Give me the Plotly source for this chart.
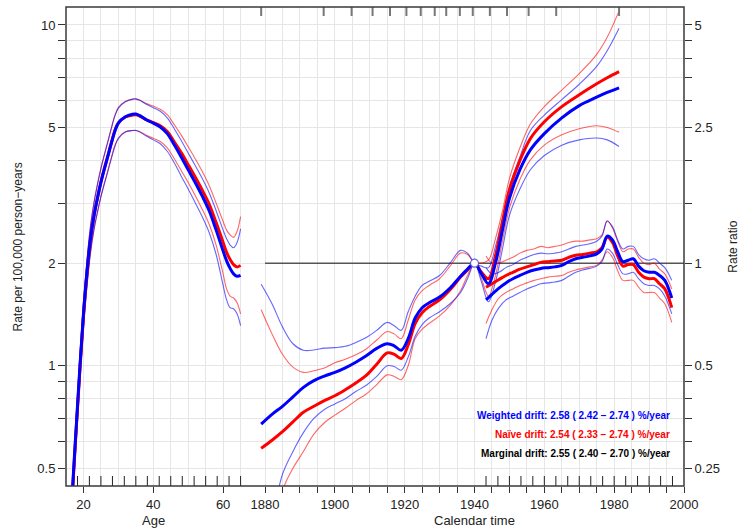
import plotly.graph_objects as go

# ---------------- data ----------------
# Age effect: rates per 100,000 person-years
age = [16.5, 17, 18, 19, 20, 21, 22, 23, 24, 25, 26, 27, 28, 29, 30, 32, 34, 35, 36, 38,
       40, 42, 44, 46, 48, 50, 52, 54, 56, 58, 60, 61, 62, 63, 64, 65]
age_w = [0.36, 0.46, 0.68, 1.00, 1.42, 1.88, 2.35, 2.75, 3.10, 3.45, 3.78, 4.12, 4.50, 4.88, 5.15, 5.38, 5.47, 5.48, 5.43, 5.27,
         5.15, 5.02, 4.80, 4.45, 4.10, 3.76, 3.45, 3.15, 2.85, 2.50, 2.17, 2.03, 1.93, 1.86, 1.83, 1.84]
age_w_hi = [0.38, 0.49, 0.73, 1.08, 1.54, 2.04, 2.56, 3.00, 3.40, 3.79, 4.16, 4.54, 4.97, 5.40, 5.70, 5.95, 6.06, 6.07, 6.02, 5.85,
            5.72, 5.58, 5.34, 4.96, 4.58, 4.21, 3.87, 3.55, 3.22, 2.85, 2.50, 2.36, 2.26, 2.22, 2.30, 2.52]
age_w_lo = [0.33, 0.42, 0.62, 0.92, 1.30, 1.72, 2.15, 2.51, 2.82, 3.13, 3.42, 3.72, 4.06, 4.40, 4.64, 4.85, 4.90, 4.90, 4.86, 4.72,
            4.60, 4.48, 4.26, 3.94, 3.60, 3.30, 3.01, 2.74, 2.46, 2.12, 1.72, 1.56, 1.48, 1.47, 1.42, 1.31]
age_n = [0.36, 0.45, 0.67, 0.98, 1.40, 1.86, 2.33, 2.74, 3.10, 3.46, 3.80, 4.14, 4.52, 4.90, 5.16, 5.37, 5.44, 5.45, 5.41, 5.27,
         5.17, 5.06, 4.87, 4.54, 4.22, 3.89, 3.58, 3.28, 2.98, 2.63, 2.30, 2.15, 2.05, 1.98, 1.95, 1.97]
age_n_hi = [0.38, 0.48, 0.72, 1.07, 1.53, 2.03, 2.55, 3.00, 3.40, 3.80, 4.18, 4.56, 5.00, 5.43, 5.72, 5.96, 6.05, 6.06, 6.02, 5.88,
            5.78, 5.66, 5.46, 5.10, 4.75, 4.39, 4.05, 3.72, 3.38, 3.00, 2.65, 2.50, 2.42, 2.38, 2.48, 2.74]
age_n_lo = [0.33, 0.41, 0.61, 0.90, 1.28, 1.70, 2.13, 2.50, 2.82, 3.14, 3.44, 3.75, 4.09, 4.43, 4.66, 4.86, 4.90, 4.90, 4.87, 4.75,
            4.65, 4.55, 4.36, 4.05, 3.74, 3.45, 3.16, 2.88, 2.60, 2.26, 1.86, 1.68, 1.60, 1.58, 1.53, 1.42]

# Cohort effect: rate ratios, reference cohort 1940
cohort = [1878.9, 1882, 1885, 1888, 1891, 1894, 1897, 1900, 1903, 1906, 1909, 1912, 1915, 1917, 1919,
          1921, 1923, 1925, 1927, 1930, 1933, 1936, 1938, 1940, 1942, 1944, 1946, 1948, 1950, 1953,
          1956, 1960, 1965, 1970, 1975, 1978, 1981.4]
coh_w = [0.337, 0.360, 0.380, 0.405, 0.432, 0.452, 0.466, 0.478, 0.493, 0.512, 0.535, 0.562, 0.580, 0.572, 0.555,
         0.600, 0.690, 0.740, 0.765, 0.795, 0.845, 0.915, 0.960, 1.000, 0.930, 0.870, 1.000, 1.250, 1.550, 1.880,
         2.150, 2.400, 2.670, 2.900, 3.070, 3.170, 3.270]
coh_w_hi = [0.867, 0.760, 0.650, 0.580, 0.555, 0.556, 0.563, 0.565, 0.570, 0.585, 0.605, 0.635, 0.670, 0.655, 0.635,
            0.720, 0.800, 0.860, 0.885, 0.920, 1.000, 1.090, 1.070, 1.000, 0.980, 0.970, 1.120, 1.350, 1.680, 2.050,
            2.450, 2.720, 3.020, 3.350, 3.780, 4.200, 4.890]
coh_w_lo = [0.120, 0.175, 0.240, 0.280, 0.318, 0.350, 0.372, 0.386, 0.400, 0.420, 0.438, 0.465, 0.500, 0.497, 0.485,
            0.530, 0.610, 0.660, 0.690, 0.720, 0.760, 0.820, 0.900, 1.000, 0.880, 0.770, 0.880, 1.100, 1.380, 1.650,
            1.880, 2.070, 2.220, 2.300, 2.330, 2.300, 2.200]
coh_n = [0.286, 0.302, 0.320, 0.342, 0.365, 0.380, 0.395, 0.408, 0.425, 0.445, 0.468, 0.505, 0.545, 0.540, 0.525,
         0.575, 0.665, 0.715, 0.745, 0.780, 0.835, 0.910, 0.955, 1.000, 0.940, 0.900, 1.050, 1.320, 1.640, 2.000,
         2.320, 2.600, 2.880, 3.120, 3.360, 3.500, 3.650]
coh_n_hi = [0.730, 0.620, 0.540, 0.495, 0.478, 0.483, 0.492, 0.510, 0.522, 0.538, 0.560, 0.595, 0.630, 0.620, 0.600,
            0.680, 0.780, 0.830, 0.860, 0.900, 0.980, 1.070, 1.060, 1.000, 1.000, 1.020, 1.180, 1.420, 1.770, 2.180,
            2.560, 2.880, 3.220, 3.600, 4.100, 4.600, 5.500]
coh_n_lo = [0.100, 0.150, 0.215, 0.250, 0.280, 0.315, 0.340, 0.358, 0.375, 0.395, 0.413, 0.440, 0.470, 0.465, 0.455,
            0.500, 0.600, 0.640, 0.665, 0.700, 0.750, 0.830, 0.920, 1.000, 0.900, 0.800, 0.920, 1.160, 1.450, 1.760,
            2.010, 2.220, 2.380, 2.480, 2.530, 2.500, 2.420]

# Period effect: rate ratios
period = [1943.3, 1945, 1947, 1949, 1951, 1953, 1955, 1957, 1959, 1961, 1963, 1965, 1967, 1969, 1971, 1973,
          1975, 1976.5, 1978, 1979.5, 1981, 1982.5, 1984, 1985.5, 1987, 1988.5, 1990, 1991.5, 1993, 1994.5, 1996.5]
per_w = [0.78, 0.81, 0.845, 0.875, 0.90, 0.92, 0.94, 0.955, 0.965, 0.97, 0.975, 0.985, 1.01, 1.03, 1.04, 1.05,
         1.065, 1.10, 1.20, 1.17, 1.08, 1.01, 1.02, 1.03, 0.98, 0.95, 0.94, 0.94, 0.92, 0.89, 0.79]
per_w_hi = [0.97, 0.93, 0.94, 0.97, 0.99, 1.02, 1.04, 1.06, 1.07, 1.065, 1.07, 1.08, 1.10, 1.12, 1.13, 1.14,
            1.16, 1.20, 1.33, 1.28, 1.17, 1.10, 1.12, 1.12, 1.06, 1.03, 1.02, 1.03, 1.00, 0.97, 0.89]
per_w_lo = [0.60, 0.68, 0.74, 0.78, 0.80, 0.82, 0.84, 0.855, 0.87, 0.875, 0.88, 0.89, 0.915, 0.94, 0.955, 0.965,
            0.98, 1.01, 1.10, 1.07, 0.99, 0.93, 0.93, 0.94, 0.90, 0.87, 0.86, 0.86, 0.84, 0.80, 0.71]
per_n = [0.85, 0.87, 0.895, 0.92, 0.94, 0.96, 0.975, 0.99, 1.005, 1.01, 1.015, 1.02, 1.04, 1.055, 1.06, 1.07,
         1.08, 1.11, 1.19, 1.15, 1.05, 0.98, 0.99, 0.99, 0.94, 0.91, 0.90, 0.90, 0.87, 0.84, 0.74]
per_n_hi = [1.05, 1.00, 1.00, 1.02, 1.04, 1.07, 1.09, 1.10, 1.12, 1.11, 1.12, 1.13, 1.15, 1.16, 1.16, 1.17,
            1.18, 1.21, 1.33, 1.27, 1.16, 1.08, 1.10, 1.10, 1.04, 1.00, 0.99, 1.00, 0.96, 0.93, 0.84]
per_n_lo = [0.665, 0.73, 0.79, 0.82, 0.84, 0.86, 0.875, 0.89, 0.90, 0.91, 0.915, 0.92, 0.94, 0.955, 0.965, 0.975,
            0.985, 1.02, 1.08, 1.04, 0.95, 0.89, 0.89, 0.89, 0.85, 0.82, 0.82, 0.82, 0.79, 0.76, 0.67]

ref_cohort = 1940
ref_span = [1880, 2000]

# rug of data ages / periods and cohort knots
age_rug = [18.3, 21.7, 25, 28.3, 31.7, 35, 38.3, 41.7, 45, 48.3, 51.7, 55, 58.3, 61.7, 65]
per_rug = [1943.3, 1946.7, 1950, 1953.3, 1956.7, 1960, 1963.3, 1966.7, 1970, 1973.3, 1976.7,
           1980, 1983.3, 1986.7, 1990, 1993.3, 1996.7]
coh_knots = [1878.9, 1896.8, 1904.8, 1910.8, 1915.8, 1920.5, 1924.6, 1928.6, 1931.9, 1935.8,
             1939.5, 1944.4, 1949.3, 1955.5, 1963.4, 1981.4]

# axis ticks
age_labels = [20, 40, 60]
age_grid = [20, 25, 30, 35, 40, 45, 50, 55, 60, 65]
cal_ticks = list(range(1880, 2001, 5))
cal_labels = [str(v) if v % 20 == 0 else "" for v in cal_ticks]
rate_ticks = [0.5, 0.6, 0.7, 0.8, 0.9, 1, 2, 3, 4, 5, 6, 7, 8, 9, 10]
rate_labels = ["0.5", "", "", "", "", "1", "2", "", "", "5", "", "", "", "", "10"]
rr_ticks = [0.25, 0.3, 0.35, 0.4, 0.45, 0.5, 1, 1.5, 2, 2.5, 3, 3.5, 4, 4.5, 5]
rr_labels = ["0.25", "", "", "", "", "0.5", "1", "", "", "2.5", "", "", "", "", "5"]

drift_lines = [
    ("Weighted drift: 2.58 ( 2.42 \u2212 2.74 ) %/year", "#0000FF"),
    ("Na\u00efve drift: 2.54 ( 2.33 \u2212 2.74 ) %/year", "#FF0000"),
    ("Marginal drift: 2.55 ( 2.40 \u2212 2.70 ) %/year", "#000000"),
]

# ---------------- styles ----------------
FONT = "Liberation Sans, Arial, sans-serif"
BLUE = "#0000FF"
RED = "#FF0000"
BLUE_T = "rgba(0,0,255,0.6)"
RED_T = "rgba(255,0,0,0.6)"
GRID = "#E6E6E6"
AX = "#333333"

fig = go.Figure()

# reference line RR = 1
fig.add_trace(go.Scatter(x=ref_span, y=[1, 1], xaxis="x2", yaxis="y2", mode="lines",
                         line=dict(color="#555555", width=1.5), hoverinfo="skip"))


def add_set(x, lo, hi, mid, xa, ya, col_t, col):
    for s in (lo, hi):
        fig.add_trace(go.Scatter(x=x, y=s, xaxis=xa, yaxis=ya, mode="lines",
                                 line=dict(color=col_t, width=1.1, shape="spline"),
                                 hoverinfo="skip"))


# thin confidence bands, red first then blue
add_set(age, age_n_lo, age_n_hi, age_n, "x", "y", RED_T, RED)
add_set(cohort, coh_n_lo, coh_n_hi, coh_n, "x2", "y2", RED_T, RED)
add_set(period, per_n_lo, per_n_hi, per_n, "x2", "y2", RED_T, RED)
add_set(age, age_w_lo, age_w_hi, age_w, "x", "y", BLUE_T, BLUE)
add_set(cohort, coh_w_lo, coh_w_hi, coh_w, "x2", "y2", BLUE_T, BLUE)
add_set(period, per_w_lo, per_w_hi, per_w, "x2", "y2", BLUE_T, BLUE)

# thick estimates
for x, y, xa, ya, col in [
    (age, age_n, "x", "y", RED), (cohort, coh_n, "x2", "y2", RED), (period, per_n, "x2", "y2", RED),
    (age, age_w, "x", "y", BLUE), (cohort, coh_w, "x2", "y2", BLUE), (period, per_w, "x2", "y2", BLUE),
]:
    fig.add_trace(go.Scatter(x=x, y=y, xaxis=xa, yaxis=ya, mode="lines",
                             line=dict(color=col, width=3, shape="spline"), hoverinfo="skip"))

# reference cohort marker
fig.add_trace(go.Scatter(x=[ref_cohort], y=[1], xaxis="x2", yaxis="y2", mode="markers",
                         marker=dict(size=8, color="white", line=dict(color="rgba(70,70,200,0.8)", width=1.2)),
                         hoverinfo="skip"))

# empty trace so the age grid axis gets drawn
fig.add_trace(go.Scatter(x=[], y=[], xaxis="x3", yaxis="y", mode="lines", hoverinfo="skip"))

shapes = []
# rug ticks on the bottom edge
for a in age_rug:
    shapes.append(dict(type="line", xref="x", yref="paper", x0=a, x1=a, y0=0, y1=10 / 479,
                       line=dict(color="#222222", width=1)))
for p in per_rug:
    shapes.append(dict(type="line", xref="x2", yref="paper", x0=p, x1=p, y0=0, y1=10 / 479,
                       line=dict(color="#222222", width=1)))
# cohort knots on the top edge
for c in coh_knots:
    shapes.append(dict(type="line", xref="x2", yref="paper", x0=c, x1=c, y0=1, y1=1 - 9 / 479,
                       line=dict(color="#777777", width=2)))
# frame
shapes.append(dict(type="rect", xref="paper", yref="paper", x0=0, x1=1, y0=0, y1=1,
                   line=dict(color="#3a3a3a", width=1.5), layer="above"))

annotations = [
    dict(text="Age", xref="x", yref="paper", x=40, y=-0.073, showarrow=False,
         font=dict(size=13, color="#222"), yanchor="middle"),
    dict(text="Calendar time", xref="x2", yref="paper", x=1940, y=-0.073, showarrow=False,
         font=dict(size=13, color="#222"), yanchor="middle"),
    dict(text="Rate per 100,000 person\u2212years", xref="paper", yref="paper", x=-0.0777, y=0.5,
         textangle=-90, showarrow=False, font=dict(size=12, color="#222"), xanchor="center", yanchor="middle"),
    dict(text="Rate ratio", xref="paper", yref="paper", x=1.078, y=0.5,
         textangle=-90, showarrow=False, font=dict(size=12, color="#222"), xanchor="center", yanchor="middle"),
]
for i, (txt, col) in enumerate(drift_lines):
    annotations.append(dict(text="<b>" + txt + "</b>", xref="paper", yref="paper", x=0.980,
                            y=0.1476 - i * 0.0397, xanchor="right", yanchor="middle", showarrow=False,
                            font=dict(size=10, color=col)))

tickfont = dict(family=FONT, size=13, color="#222")

fig.update_layout(
    width=739, height=530,
    margin=dict(l=66, r=55, t=7, b=44),
    paper_bgcolor="white", plot_bgcolor="white",
    showlegend=False,
    font=dict(family=FONT),
    xaxis=dict(domain=[0, 1], range=[15, 192], tickmode="array", tickvals=age_labels,
               ticks="outside", ticklen=6, tickcolor=AX, tickwidth=1, showgrid=False, zeroline=False,
               showline=False, tickfont=tickfont, anchor="y"),
    xaxis3=dict(overlaying="x", range=[15, 192], tickmode="array", tickvals=age_grid, showgrid=True,
                gridcolor=GRID, gridwidth=1, ticks="", showticklabels=False, zeroline=False,
                showline=False, anchor="y"),
    xaxis2=dict(overlaying="x", range=[1823, 2000], tickmode="array", tickvals=cal_ticks, ticktext=cal_labels,
                ticks="outside", ticklen=6, tickcolor=AX, tickwidth=1, showgrid=True, gridcolor=GRID,
                gridwidth=1, zeroline=False, showline=False, tickfont=tickfont, anchor="y2", side="bottom"),
    yaxis=dict(type="log", range=[-0.3531, 1.0528], tickmode="array", tickvals=rate_ticks, ticktext=rate_labels,
               ticks="outside", ticklen=7, tickcolor=AX, tickwidth=1, showgrid=True, gridcolor=GRID,
               gridwidth=1, zeroline=False, showline=False, tickfont=tickfont, anchor="x"),
    yaxis2=dict(type="log", overlaying="y", side="right", range=[-0.3531 - 0.30103, 1.0528 - 0.30103],
                tickmode="array", tickvals=rr_ticks, ticktext=rr_labels, ticks="outside", ticklen=7,
                tickcolor=AX, tickwidth=1, showgrid=False, zeroline=False, showline=False,
                tickfont=tickfont, anchor="x2"),
    shapes=shapes,
    annotations=annotations,
)

fig.write_html("out.html")
